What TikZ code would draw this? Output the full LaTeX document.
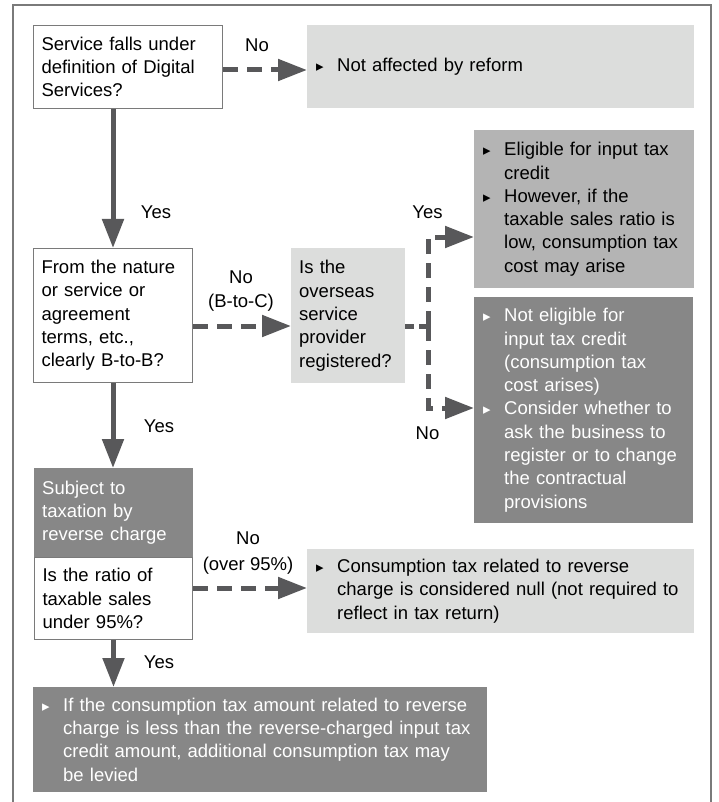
\documentclass[tikz,border=0pt]{standalone}
\usepackage{fontspec}
\setmainfont{Liberation Sans}
\newfontfamily\symfont{DejaVu Sans}
\usepackage{tikz}
\usetikzlibrary{arrows.meta,positioning,calc}
\definecolor{BoxLight}{HTML}{DCDDDC}
\definecolor{BoxMid}{HTML}{B4B4B4}
\definecolor{BoxDark}{HTML}{878787}
\definecolor{ArrowGray}{HTML}{58585A}
\definecolor{LineGray}{HTML}{7A7A7A}
\setlength{\parindent}{0pt}
\newcommand{\bul}{\hspace*{1pt}\makebox[21pt][l]{\symfont\fontsize{15pt}{15pt}\selectfont ▸}}
\newcommand{\ind}{\hspace*{22pt}}

\begin{document}
\begin{tikzpicture}[x=1pt,y=-1pt,>={Triangle[length=29pt,width=21pt]},
  every node/.style={font=\fontsize{18.5pt}{23.3pt}\selectfont},
  flowbox/.style={anchor=north west,align=left,inner xsep=8pt,inner ysep=0pt},
  askbox/.style={flowbox,draw=LineGray,line width=1pt,fill=white},
  lightbox/.style={flowbox,fill=BoxLight},
  midbox/.style={flowbox,fill=BoxMid},
  darkbox/.style={flowbox,fill=BoxDark,text=white},
  yesline/.style={->,line width=5pt,ArrowGray},
  noline/.style={yesline,dash pattern=on 15pt off 9pt}]
  \useasboundingbox (0,0) rectangle (718,802);
  \draw[LineGray,line width=1.2pt] (13,802) -- (13,5) -- (711,5) -- (711,802);

  \node[askbox,minimum width=189pt,minimum height=83pt,text width=173pt] (q1) at (33,25)
    {Service falls under\\definition of Digital\\Services?};
  \node[lightbox,minimum width=387pt,minimum height=83pt,text width=371pt] (r1) at (307,25)
    {\bul Not affected by reform};
  \node[askbox,minimum width=159pt,minimum height=134pt,text width=143pt] (q2) at (33,248)
    {From the nature\\or service or\\agreement\\terms, etc.,\\clearly B-to-B?};
  \node[lightbox,minimum width=114pt,minimum height=135pt,text width=98pt] (q3) at (291,248)
    {Is the\\overseas\\service\\provider\\registered?};
  \node[midbox,minimum width=220pt,minimum height=158pt,text width=204pt] (r2) at (474,130)
    {\bul Eligible for input tax\\\ind credit\\\bul However, if the\\\ind taxable sales ratio is\\\ind low, consumption tax\\\ind cost may arise};
  \node[darkbox,minimum width=219pt,minimum height=226pt,text width=203pt] (r3) at (474,297)
    {\bul Not eligible for\\\ind input tax credit\\\ind (consumption tax\\\ind cost arises)\\\bul Consider whether to\\\ind ask the business to\\\ind register or to change\\\ind the contractual\\\ind provisions};
  \node[darkbox,minimum width=159pt,minimum height=89pt,text width=143pt] (s1) at (34,468)
    {Subject to\\taxation by\\reverse charge};
  \node[askbox,minimum width=158pt,minimum height=82pt,text width=142pt] (q4) at (34,557)
    {Is the ratio of\\taxable sales\\under 95\%?};
  \node[lightbox,minimum width=387pt,minimum height=84pt,text width=371pt] (r4) at (307,549)
    {\bul Consumption tax related to reverse\\\ind charge is considered null (not required to\\\ind reflect in tax return)};
  \node[darkbox,minimum width=454pt,minimum height=105pt,text width=438pt] (r5) at (33,687)
    {\bul If the consumption tax amount related to reverse\\\ind charge is less than the reverse-charged input tax\\\ind credit amount, additional consumption tax may\\\ind be levied};

  \node (lno1) at (257,45) {No};
  \node (lyes1) at (156,212) {Yes};
  \node[align=center] (lno2) at (241,291) {No\\(B-to-C)};
  \node (lyes2) at (159,426) {Yes};
  \node (lyes3) at (427.5,212) {Yes};
  \node (lno3) at (427.5,433) {No};
  \node[align=center] (lno4) at (248,553) {No\\[2.5pt](over 95\%)};
  \node (lyes4) at (159,662) {Yes};

  \coordinate (jn) at (428,326);
  \draw[noline] (q1.east |- 0,70) -- (r1.west |- 0,70);
  \draw[yesline] (q1.south -| q2.north) -- (q2.north);
  \draw[noline] (q2.east |- 0,326) -- (q3.west |- 0,326);
  \draw[yesline] (q2.south) -- (q2.south |- s1.north);
  \draw[noline,-,dash pattern=on 9pt off 5pt] (q3.east |- jn) -- (jn);
  \draw[noline] (jn) |- (r2.west |- 0,237);
  \draw[noline] (jn) |- (r3.west |- 0,408);
  \draw[noline] (q4.east |- 0,588) -- (r4.west |- 0,588);
  \draw[yesline] (q4.south) -- (q4.south |- r5.north);
\end{tikzpicture}
\end{document}
